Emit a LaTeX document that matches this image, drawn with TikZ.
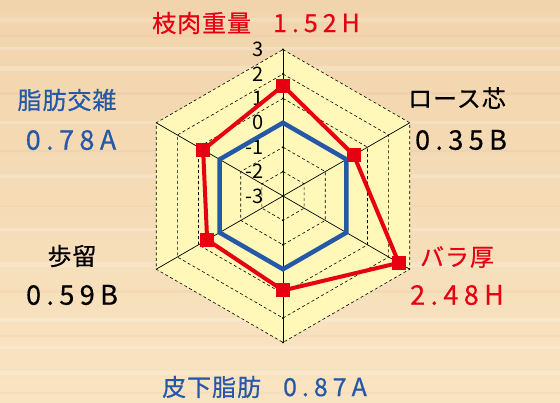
\documentclass[tikz,border=0pt]{standalone}
\usepackage{fontspec}
\setmainfont{Noto Sans CJK JP}
\definecolor{woodtop}{RGB}{241,212,172}
\definecolor{woodbot}{RGB}{249,228,194}
\definecolor{chartfill}{RGB}{255,248,184}
\definecolor{beefred}{RGB}{230,0,18}
\definecolor{beefblue}{RGB}{38,88,168}
\begin{document}
\begin{tikzpicture}[x=1pt, y=-1pt,
    ring/.style={draw=black, dashed, line width=0.6pt, dash pattern=on 3pt off 2.5pt},
    spoke/.style={draw=black, line width=0.7pt},
    marker/.style={rectangle, fill=beefred, minimum size=14pt, inner sep=0pt},
    tick/.style={font=\fontsize{20}{22}\selectfont, anchor=east, inner sep=0pt},
    trait/.style={font=\fontsize{24}{26}\selectfont\addfontfeatures{LetterSpace=4,FakeBold=0.5}, inner sep=0pt},
    grade/.style={font=\fontsize{27}{28}\selectfont\addfontfeatures{LetterSpace=20,FakeBold=0.5}, inner sep=0pt}
]
% wood background
\useasboundingbox (0,0) rectangle (560,403);
\shade[top color=woodtop, bottom color=woodbot] (0,0) rectangle (560,403);
\foreach \y/\h in {18/4, 47/3, 66/5, 121/3, 174/4, 228/3, 262/5, 318/4, 346/3, 371/4}
    \fill[white, opacity=0.2] (0,\y) rectangle (560,\y+\h);
\foreach \y/\h in {35/2, 92/3, 150/2, 205/2, 290/3, 335/2, 392/2}
    \fill[brown, opacity=0.06] (0,\y) rectangle (560,\y+\h);

\begin{scope}[shift={(283,196)}]
% hexagon grid
\fill[chartfill] (-90:146.4) -- (-30:146.4) -- (30:146.4) -- (90:146.4) -- (150:146.4) -- (210:146.4) -- cycle;
\foreach \v in {1,...,6}
    \draw[ring] (-90:\v*24.4) -- (-30:\v*24.4) -- (30:\v*24.4) -- (90:\v*24.4) -- (150:\v*24.4) -- (210:\v*24.4) -- cycle;
\coordinate (c) at (0,0);
\foreach \a/\n in {-90/top, -30/ur, 30/lr, 90/bot, 150/ll, 210/ul}
    \coordinate (v\n) at (\a:146.4);
\foreach \n in {top, ur, lr, bot, ll, ul}
    \draw[spoke] (c) -- (v\n);
\foreach \v in {1,...,6} {
    \fill (0,-\v*24.4) circle (1.1pt);
    \fill (0,\v*24.4) circle (1.1pt);
}

% scale labels
\foreach \t [count=\i from 0] in {-3, -2, -1, 0, 1, 2, 3}
    \node[tick] (s\i) at (-19,-\i*24.4) {\t};

% average line
\foreach \a/\n in {-90/1, -30/2, 30/3, 90/4, 150/5, 210/6}
    \coordinate (b\n) at (\a:73.2);
\draw[beefblue, line width=4.5pt, line join=miter] (b1) -- (b2) -- (b3) -- (b4) -- (b5) -- (b6) -- cycle;

% measured values
\node[marker] (m1) at (-90:{(1.52+3)*24.4}) {};
\node[marker] (m2) at (-30:{(0.35+3)*24.4}) {};
\node[marker] (m3) at (30:{(2.48+3)*24.4}) {};
\node[marker] (m4) at (90:{(0.87+3)*24.4}) {};
\node[marker] (m5) at (150:{(0.59+3)*24.4}) {};
\node[marker] (m6) at (210:{(0.78+3)*24.4}) {};
\draw[beefred, line width=4pt, line join=round] (m1.center) -- (m2.center) -- (m3.center) -- (m4.center) -- (m5.center) -- (m6.center) -- cycle;
\end{scope}

% trait labels
\node[trait, text=beefred, anchor=west] (carcass) at (152,23) {枝肉重量\hspace{22pt}\addfontfeatures{LetterSpace=20}\fontsize{25}{26}\selectfont 1.52H};
\node[trait, text=beefblue] (marbling) at (67,100) {脂肪交雑};
\node[grade, text=beefblue] (marblingval) at (71,140) {0.78A};
\node[trait] (ribeye) at (457,98) {ロース芯};
\node[grade] (ribeyeval) at (461,140) {0.35B};
\node[trait] (yield) at (72,256) {歩留};
\node[grade] (yieldval) at (72,295) {0.59B};
\node[trait, text=beefred] (rib) at (457,257) {バラ厚};
\node[grade, text=beefred] (ribval) at (457,295) {2.48H};
\node[trait, text=beefblue, anchor=west] (subfat) at (162,387) {皮下脂肪\hspace{22pt}\addfontfeatures{LetterSpace=20}\fontsize{25}{26}\selectfont 0.87A};
\end{tikzpicture}
\end{document}
